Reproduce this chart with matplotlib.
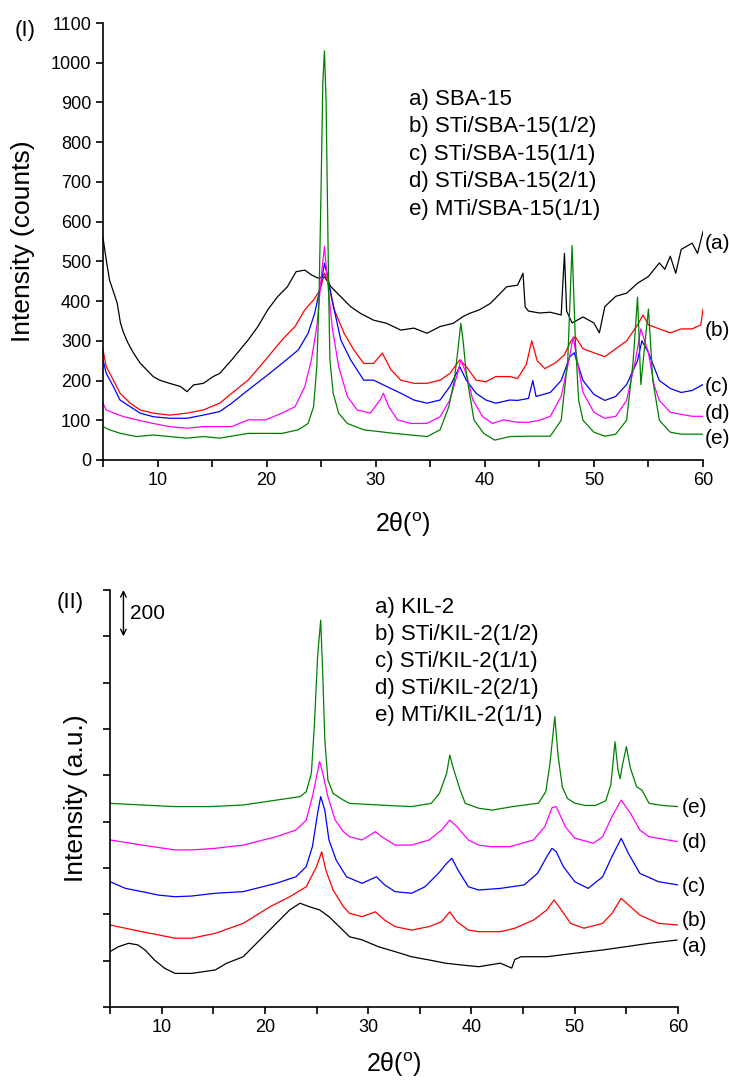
import numpy as np
import matplotlib
matplotlib.use("Agg")
import matplotlib.pyplot as plt

plt.rcParams['font.family'] = ['Liberation Sans', 'DejaVu Sans']
plt.rcParams['mathtext.fontset'] = 'custom'
plt.rcParams['mathtext.rm'] = 'Liberation Sans'

# ---- panel (I): SBA-15 series, intensity in counts ----
p1_names = ["a) SBA-15", "b) STi/SBA-15(1/2)", "c) STi/SBA-15(1/1)",
            "d) STi/SBA-15(2/1)", "e) MTi/SBA-15(1/1)"]

p1_a_x = [5.0, 5.3, 5.6, 6.0, 6.3, 6.6, 6.9, 7.3, 7.8, 8.4, 9.0, 9.6, 10.2, 11.1, 12.1, 12.7, 13.3, 14.2,
          15.1, 15.7, 16.8, 18.3, 19.2, 20.1, 21.0, 21.9, 22.7, 23.5, 24.1, 24.7, 25.3, 25.9, 26.8, 27.7,
          28.6, 29.8, 31.0, 32.3, 33.5, 34.7, 35.9, 37.1, 38.0, 38.6, 39.5, 40.5, 41.4, 42.0, 43.0, 43.5,
          43.7, 44.0, 45.0, 46.0, 47.0, 47.3, 47.5, 48.0, 49.0, 50.0, 50.5, 51.0, 52.0, 53.0, 54.0, 55.0,
          56.0, 56.5, 57.0, 57.5, 58.0, 59.0, 59.5, 60.0]
p1_a = [560, 503, 453, 420, 395, 345, 319, 294, 269, 244, 227, 210, 201, 193, 185, 172, 189, 193,
        210, 218, 252, 302, 336, 378, 411, 436, 474, 478, 466, 458, 461, 436, 411, 386,
        369, 352, 344, 327, 332, 319, 336, 344, 361, 369, 378, 394, 419, 436, 440, 470,
        385, 375, 370, 372, 365, 520, 375, 345, 360, 345, 320, 386, 412, 420, 445, 462,
        496, 480, 513, 470, 530, 546, 520, 575]

p1_b_x = [5.0, 5.3, 5.95, 6.56, 7.5, 8.4, 9.6, 11.1, 12.7, 14.2, 15.7, 16.8, 18.3, 19.9, 21.4, 22.6,
          23.5, 24.3, 24.9, 25.3, 25.6, 26.2, 27.1, 28.0, 28.9, 29.8, 30.6, 31.4, 32.3, 33.5, 34.7,
          35.9, 36.8, 37.7, 38.3, 39.2, 40.1, 41.0, 42.3, 43.0, 43.8, 44.3, 44.8, 45.5, 46.5, 47.3,
          47.9, 48.3, 49.0, 50.0, 51.0, 52.0, 53.0, 54.0, 54.5, 55.0, 56.0, 57.0, 58.0, 59.0, 59.8, 60.0]
p1_b = [277, 235, 201, 168, 143, 126, 118, 113, 118, 126, 143, 168, 201, 252, 302, 336,
        378, 403, 428, 470, 453, 378, 319, 277, 243, 243, 269, 227, 201, 193, 193,
        201, 218, 252, 235, 201, 197, 210, 210, 205, 240, 300, 250, 230, 245, 265,
        300, 310, 280, 270, 260, 280, 300, 340, 365, 340, 330, 320, 330, 330, 340, 380]

p1_c_x = [5.0, 5.3, 5.95, 6.56, 7.5, 8.4, 9.6, 11.1, 12.7, 14.2, 15.7, 16.8, 18.3, 19.9, 21.4, 22.9,
          23.8, 24.4, 25.0, 25.3, 25.6, 26.0, 26.8, 27.7, 28.9, 29.8, 31.0, 32.3, 33.5, 34.7, 35.9,
          36.8, 37.7, 38.3, 39.2, 40.1, 41.0, 42.3, 43.0, 44.0, 44.4, 44.7, 46.0, 47.0, 47.8, 48.2,
          49.0, 50.0, 51.0, 52.0, 53.0, 54.0, 54.4, 55.0, 56.0, 57.0, 58.0, 59.0, 60.0]
p1_c = [252, 218, 185, 151, 134, 118, 109, 105, 105, 113, 122, 143, 176, 210, 243, 277,
        319, 369, 445, 495, 461, 403, 302, 252, 201, 201, 185, 168, 151, 143, 151,
        185, 235, 201, 168, 151, 143, 151, 150, 155, 200, 160, 170, 200, 260, 270,
        200, 165, 150, 160, 190, 250, 300, 270, 200, 180, 170, 175, 190]

p1_d_x = [5.0, 5.3, 6.0, 6.9, 8.1, 9.6, 11.1, 12.7, 14.2, 15.7, 16.8, 18.3, 19.9, 21.4, 22.6, 23.5,
          24.1, 24.6, 25.1, 25.3, 25.6, 26.0, 26.6, 27.4, 28.3, 29.5, 30.4, 30.7, 31.2, 32.0, 33.2,
          34.7, 35.9, 36.8, 37.5, 37.8, 38.3, 38.9, 39.8, 40.7, 41.7, 43.0, 44.0, 45.0, 46.0, 47.0,
          47.7, 48.1, 48.6, 49.0, 50.0, 51.0, 52.0, 53.0, 53.8, 54.3, 55.0, 55.5, 56.0, 57.0, 58.0,
          59.0, 60.0]
p1_d = [143, 126, 118, 109, 101, 92, 84, 80, 84, 84, 84, 101, 101, 118, 134, 185,
        252, 336, 487, 537, 445, 336, 235, 160, 126, 118, 151, 168, 134, 101, 92,
        92, 109, 151, 218, 252, 218, 151, 109, 92, 101, 95, 95, 100, 110, 160,
        250, 310, 230, 170, 120, 105, 110, 150, 250, 330, 270, 190, 150, 120, 115,
        110, 110]

p1_e_x = [5.0, 5.6, 6.6, 8.1, 9.6, 11.1, 12.7, 14.2, 15.7, 18.3, 21.4, 22.9, 23.8, 24.3, 24.6, 24.8,
          25.0, 25.15, 25.3, 25.45, 25.6, 25.7, 25.8, 26.1, 26.6, 27.4, 28.9, 31.7, 34.7, 35.9, 36.7,
          37.2, 37.5, 37.8, 38.0, 38.3, 38.6, 39.0, 39.9, 40.9, 42.3, 44.0, 46.0, 47.0, 47.6, 48.0,
          48.3, 48.6, 49.0, 50.0, 51.0, 52.0, 53.0, 53.6, 54.0, 54.3, 54.7, 55.0, 55.4, 56.0, 57.0,
          58.0, 59.0, 60.0]
p1_e = [84, 76, 67, 59, 63, 59, 55, 59, 55, 67, 67, 76, 92, 134, 235, 403,
        700, 950, 1030, 900, 600, 403, 252, 168, 118, 92, 76, 67, 59, 76, 134,
        201, 269, 344, 302, 218, 168, 101, 67, 50, 59, 60, 60, 100, 250, 540,
        300, 150, 100, 70, 60, 65, 100, 250, 410, 190, 300, 380, 200, 100, 70,
        65, 65, 65]

# ---- panel (II): KIL-2 series, stacked traces (arbitrary units) ----
p2_names = ["a) KIL-2", "b) STi/KIL-2(1/2)", "c) STi/KIL-2(1/1)",
            "d) STi/KIL-2(2/1)", "e) MTi/KIL-2(1/1)"]

p2_a_x = [5.0, 5.8, 6.8, 7.7, 8.4, 9.3, 10.3, 11.3, 12.9, 15.2, 16.3, 17.9, 19.5, 21.1, 22.4, 23.4,
          24.3, 25.3, 26.2, 27.2, 28.2, 29.4, 31.0, 32.6, 34.2, 35.9, 37.5, 39.1, 40.7, 42.8, 43.9,
          44.2, 44.8, 47.3, 50.0, 52.7, 54.9, 57.2, 59.9]
p2_a = [239, 260, 275, 268, 246, 203, 167, 145, 145, 160, 189, 217, 289, 361, 419, 448,
        433, 419, 390, 347, 303, 290, 260, 239, 217, 203, 189, 181, 174, 189, 168,
        205, 217, 217, 232, 246, 260, 275, 289]

p2_b_x = [5.0, 6.5, 8.1, 9.7, 11.3, 12.9, 15.2, 17.9, 20.5, 22.4, 24.0, 25.0, 25.5, 25.9, 26.6, 27.6,
          28.2, 29.4, 30.7, 31.6, 32.6, 34.2, 35.9, 37.1, 37.9, 38.6, 39.7, 40.7, 42.8, 44.2, 46.0,
          47.3, 48.0, 48.7, 49.6, 50.9, 52.7, 53.6, 54.5, 55.4, 56.3, 58.1, 60.0]
p2_b = [354, 340, 325, 311, 297, 297, 318, 361, 433, 476, 519, 606, 670, 591, 505, 433,
        404, 390, 411, 375, 347, 332, 347, 368, 411, 368, 332, 325, 325, 340, 375,
        419, 462, 419, 361, 340, 361, 404, 469, 433, 397, 361, 354]

p2_c_x = [5.0, 6.5, 8.1, 9.7, 11.3, 12.9, 15.2, 17.9, 21.1, 23.0, 24.0, 24.6, 25.1, 25.4, 25.8, 26.2,
          26.9, 27.9, 29.4, 30.8, 31.6, 32.6, 34.2, 35.5, 36.8, 37.6, 38.1, 38.7, 39.7, 40.7, 42.8,
          45.1, 46.4, 47.3, 47.8, 48.2, 48.9, 50.0, 51.3, 52.7, 53.6, 54.5, 55.2, 56.3, 58.1, 60.0]
p2_c = [541, 512, 498, 483, 476, 479, 491, 498, 534, 562, 606, 692, 836, 908, 850, 721,
        634, 562, 534, 562, 527, 498, 491, 519, 577, 620, 642, 591, 519, 505, 512,
        527, 577, 649, 685, 671, 606, 541, 512, 562, 649, 728, 663, 577, 541, 527]

p2_d_x = [5.0, 8.1, 11.3, 12.9, 15.2, 17.9, 21.1, 23.0, 24.0, 24.6, 25.3, 25.6, 26.1, 26.8, 27.6, 28.2,
          29.4, 30.7, 31.3, 32.6, 34.2, 35.9, 37.1, 37.9, 38.6, 39.7, 40.7, 41.8, 43.7, 46.0, 47.1,
          47.8, 48.2, 49.1, 50.0, 51.8, 52.7, 53.6, 54.5, 55.4, 56.3, 57.2, 59.0, 60.0]
p2_d = [721, 699, 678, 678, 685, 699, 735, 764, 807, 908, 1060, 1009, 908, 807, 757, 735,
        721, 757, 735, 699, 699, 721, 764, 807, 778, 721, 699, 692, 692, 721, 778,
        860, 865, 778, 729, 707, 735, 821, 893, 836, 764, 735, 721, 714]

p2_e_x = [5.0, 8.1, 11.3, 14.7, 17.9, 21.1, 23.4, 24.0, 24.5, 24.8, 25.1, 25.4, 25.6, 25.8, 26.1, 26.6,
          27.6, 28.2, 31.0, 34.2, 36.1, 36.9, 37.6, 37.9, 38.2, 38.6, 38.9, 39.4, 40.7, 42.0, 44.0,
          46.5, 47.2, 47.6, 48.07, 48.4, 48.8, 49.3, 50.0, 51.0, 52.0, 53.0, 53.5, 53.9, 54.2, 54.4,
          54.6, 55.0, 55.4, 56.0, 56.5, 57.2, 58.5, 60.0]
p2_e = [879, 872, 865, 865, 872, 893, 908, 929, 1009, 1224, 1512, 1670, 1440, 1152, 980, 922,
        893, 879, 872, 865, 879, 922, 1009, 1088, 1037, 980, 937, 879, 858, 850, 865,
        880, 930, 1050, 1253, 1080, 950, 900, 880, 870, 870, 890, 960, 1145, 1020, 985,
        1040, 1124, 1030, 950, 937, 879, 870, 865]

colors = ['#000000', '#ff0000', '#0000ff', '#ff00ff', '#008000']
tags = ['(a)', '(b)', '(c)', '(d)', '(e)']
p1_tag_y = [546, 327, 184, 118, 55]
p2_tag_y = [263, 375, 518, 708, 859]

W, H = 729, 1084
fig = plt.figure(figsize=(W / 100, H / 100), dpi=100)


def style_axes(ax):
    for s in ['top', 'right']:
        ax.spines[s].set_visible(False)
    for s in ['left', 'bottom']:
        ax.spines[s].set_linewidth(1.2)
    ax.tick_params(direction='out', length=5, width=1.2, labelsize=13)
    ax.set_xlim(5, 60)
    ticks = np.arange(5, 61, 5)
    ax.set_xticks(ticks)
    ax.set_xticklabels([str(t) if t % 10 == 0 else '' for t in ticks])


# panel I
ax1 = fig.add_axes([103 / W, 1 - 460 / H, 600 / W, 437 / H])
style_axes(ax1)
p1_series = [(p1_a_x, p1_a), (p1_b_x, p1_b), (p1_c_x, p1_c), (p1_d_x, p1_d), (p1_e_x, p1_e)]
for (xs, ys), c in zip(p1_series, colors):
    ax1.plot(xs, ys, color=c, lw=0.9)
ax1.set_ylim(0, 1100)
ax1.set_yticks(np.arange(0, 1101, 100))
ax1.set_ylabel('Intensity (counts)', fontsize=19, va='center')
ax1.yaxis.set_label_coords(-0.133, 0.5)
ax1.set_xlabel(r'2θ($^{\rm o}$)', fontsize=18, va='center')
ax1.xaxis.set_label_coords(0.5, -0.148)
ax1.text(-0.13, 0.982, '(I)', transform=ax1.transAxes, fontsize=16, ha='center', va='center')
for i, name in enumerate(p1_names):
    ax1.text(0.51, 0.826 - i * 0.063, name, transform=ax1.transAxes, fontsize=16, va='center')
for t, ty in zip(tags, p1_tag_y):
    ax1.text(60.2, ty, t, fontsize=15, va='center', clip_on=False)

# panel II
ax2 = fig.add_axes([110 / W, 1 - 1007 / H, 568 / W, 417 / H])
style_axes(ax2)
p2_series = [(p2_a_x, p2_a), (p2_b_x, p2_b), (p2_c_x, p2_c), (p2_d_x, p2_d), (p2_e_x, p2_e)]
for (xs, ys), c in zip(p2_series, colors):
    ax2.plot(xs, ys, color=c, lw=0.9)
ax2.set_ylim(0, 1800)
ax2.set_yticks(np.arange(0, 1801, 200))
ax2.set_yticklabels([])
ax2.set_ylabel('Intensity (a.u.)', fontsize=19, va='center')
ax2.yaxis.set_label_coords(-0.06, 0.5)
ax2.set_xlabel(r'2θ($^{\rm o}$)', fontsize=18, va='center')
ax2.xaxis.set_label_coords(0.5, -0.138)
ax2.text(-0.07, 0.971, '(II)', transform=ax2.transAxes, fontsize=16, ha='center', va='center')
for i, name in enumerate(p2_names):
    ax2.text(0.467, 0.959 - i * 0.065, name, transform=ax2.transAxes, fontsize=16, va='center')
for t, ty in zip(tags, p2_tag_y):
    ax2.text(60.4, ty, t, fontsize=15, va='center', clip_on=False)
# scale bar: 200 units
ax2.annotate('', xy=(6.3, 1800), xytext=(6.3, 1600),
             arrowprops=dict(arrowstyle='<->', lw=1.0, color='black', shrinkA=0, shrinkB=0),
             annotation_clip=False)
ax2.text(6.9, 1700, '200', fontsize=15, va='center')

fig.savefig('out.png', dpi=100)
